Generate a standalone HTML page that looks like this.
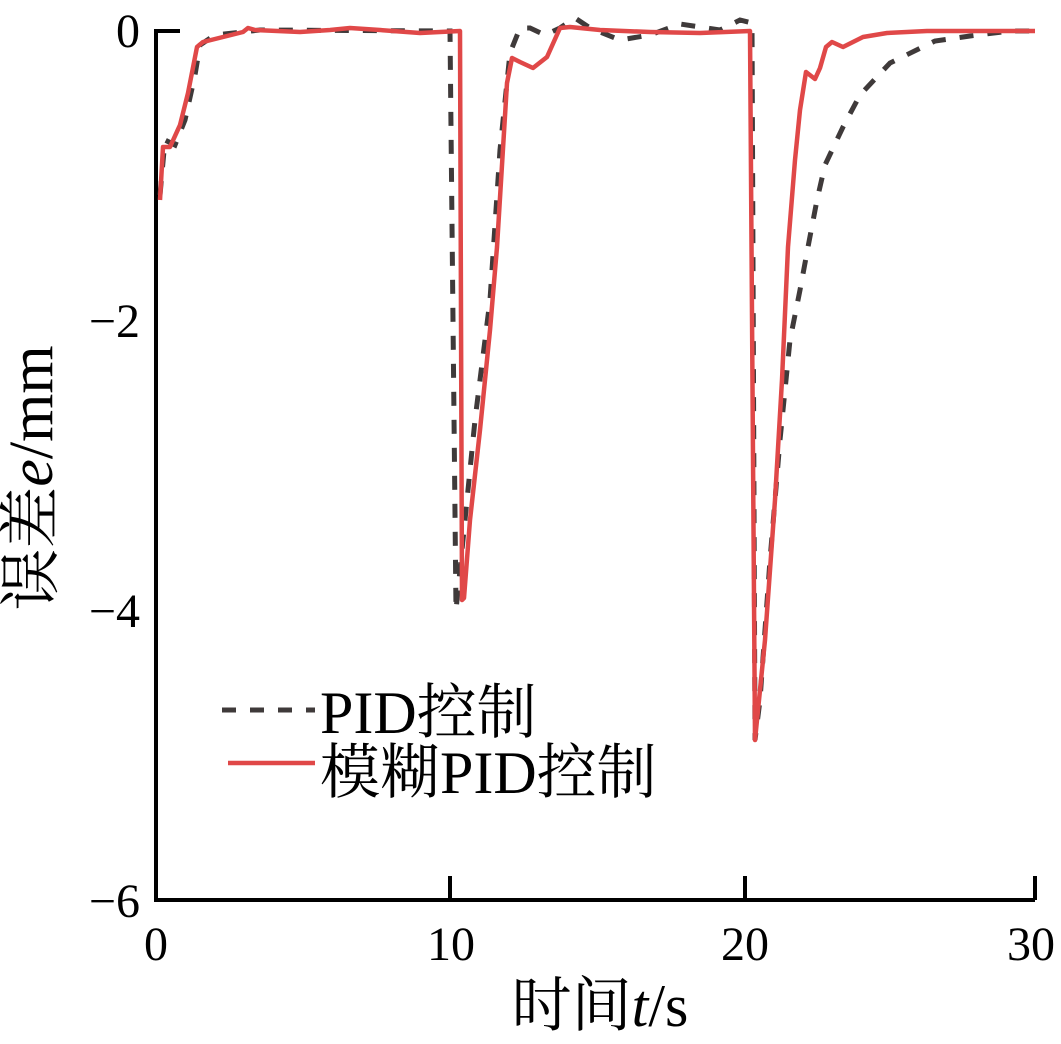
<!DOCTYPE html>
<html><head><meta charset="utf-8"><style>
body{margin:0;background:#fff;}
svg{display:block;font-family:"Liberation Serif","Noto Serif CJK SC",serif;}
</style></head><body>
<svg width="1061" height="1044" viewBox="0 0 1061 1044">
<g stroke="#000" stroke-width="4" fill="none">
<path d="M156,29 V900 H1035"/>
<path d="M156,31 H180"/>
<path d="M450,900 V876 M745,900 V876 M1035,900 V876"/>
</g>
<g font-size="48" fill="#000" text-anchor="end">
<text x="140" y="47">0</text>
<text x="140" y="337">−2</text>
<text x="140" y="627">−4</text>
<text x="140" y="917">−6</text>
</g>
<g font-size="48" fill="#000" text-anchor="middle">
<text x="156" y="960">0</text>
<text x="451" y="960">10</text>
<text x="745" y="960">20</text>
<text x="1031" y="960">30</text>
</g>
<text x="600" y="1026" font-size="60" text-anchor="middle">时间<tspan font-style="italic">t</tspan>/s</text>
<text transform="translate(52,478) rotate(-90)" font-size="62" text-anchor="middle">误差<tspan font-style="italic">e</tspan>/mm</text>
<path fill="none" stroke="#3f3a3a" stroke-width="5" stroke-dasharray="14,14" d="M160,195 L165,140 175,145 185,120 195,75 200,45 215,35 260,30 450,31 L456,610 465,520 475,420 490,300 500,150 510,53 520,28 530,28 545,35 560,28 575,18 590,28 620,40 650,35 680,24 720,30 740,20 752,23 L755,740 760,700 770,560 780,440 790,340 800,290 808,247 817,200 825,165 843,127 860,95 890,63 935,41 970,36 1010,31 1035,31"/>
<path fill="none" stroke="#e04848" stroke-width="4.5" stroke-linejoin="round" d="M160,200 L163,147 170,147 180,125 188,93 197,47 203,42 243,32 248,28 255,30 300,32 330,30 350,28 380,30 420,33 460,31 L462,600 464,598 470,520 480,430 490,330 497,247 507,83 512,58 520,62 533,68 547,57 560,28 570,27 600,30 650,32 700,33 750,31 L755,740 765,640 775,500 782,380 788,247 795,160 800,110 806,72 815,79 820,68 826,47 832,42 843,47 863,37 887,33 927,31 1035,31"/>
<line x1="222" y1="710" x2="315" y2="710" stroke="#3f3a3a" stroke-width="5" stroke-dasharray="14,14"/>
<line x1="228" y1="763" x2="315" y2="763" stroke="#e04848" stroke-width="4.5"/>
<text x="320" y="733" font-size="60">PID控制</text>
<text x="320" y="793" font-size="60">模糊PID控制</text>
</svg>
</body></html>
